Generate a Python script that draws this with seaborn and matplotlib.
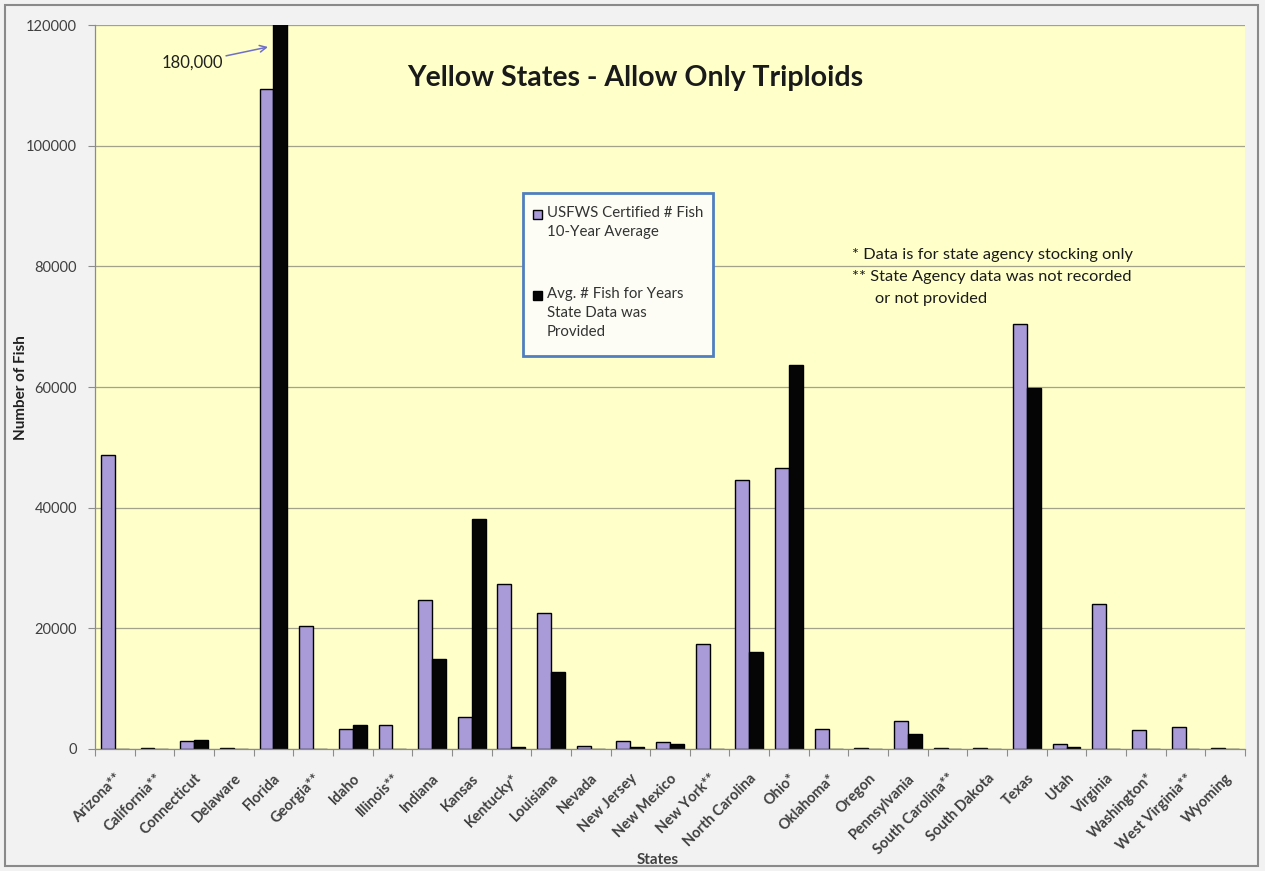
import numpy as np
import pandas as pd
import matplotlib
matplotlib.use("Agg")
import matplotlib.pyplot as plt
import seaborn as sns
from matplotlib.patches import Rectangle

# ---------------- data ----------------
states = ["Arizona**", "California**", "Connecticut", "Delaware", "Florida",
          "Georgia**", "Idaho", "Illinois**", "Indiana", "Kansas", "Kentucky*",
          "Louisiana", "Nevada", "New Jersey", "New Mexico", "New York**",
          "North Carolina", "Ohio*", "Oklahoma*", "Oregon", "Pennsylvania",
          "South Carolina**", "South Dakota", "Texas", "Utah", "Virginia",
          "Washington*", "West Virginia**", "Wyoming"]
usfws_avg = [48800, 150, 1250, 150, 109400,
             20400, 3300, 4000, 24700, 5300, 27300,
             22600, 550, 1270, 1170, 17400,
             44600, 46500, 3300, 120, 4700,
             120, 120, 70500, 830, 24000,
             3100, 3700, 120]
state_avg = [0, 60, 1500, 40, 180000,
             0, 4000, 0, 15000, 38100, 300,
             12700, 0, 400, 830, 0,
             16000, 63700, 0, 40, 2500,
             40, 40, 59800, 270, 0,
             0, 0, 40]
series_names = ["USFWS Certified # Fish 10-Year Average",
                "Avg. # Fish for Years State Data was Provided"]
yticks = [0, 20000, 40000, 60000, 80000, 100000, 120000]

purple = "#a99bd8"
black = "#050505"

sns.set_theme(style="white")
plt.rcParams['font.family'] = ['Lato', 'DejaVu Sans']

n = len(states)
df = pd.DataFrame({
    "State": states * 2,
    "Series": [series_names[0]] * n + [series_names[1]] * n,
    "Fish": usfws_avg + state_avg,
})

W, H = 1265, 871
fig = plt.figure(figsize=(W / 100, H / 100), dpi=100, facecolor="#f2f2f2")
ax = fig.add_axes([95 / W, 1 - 749 / H, 1150 / W, 724 / H])
ax.set_facecolor("#ffffc9")

sns.barplot(data=df, x="State", y="Fish", hue="Series", hue_order=series_names,
            palette=[purple, black], width=0.7, edgecolor="black", linewidth=1,
            saturation=1, errorbar=None, legend=False, ax=ax)

ax.set_ylim(0, 120000)
ax.set_xlim(-0.5, n - 0.5)
ax.set_yticks(yticks)
ax.set_yticklabels([str(v) for v in yticks], fontsize=10.5, color="#404040")
ax.yaxis.grid(True, color="#a3a38a", lw=0.9)
ax.set_axisbelow(True)

ax.set_xticks(range(n))
ax.set_xticklabels(states, rotation=45, ha="right", rotation_mode="anchor",
                   fontsize=10.5, fontweight="bold", color="#404040")
ax.set_xticks(np.arange(-0.5, n, 1), minor=True)
ax.tick_params(axis="x", which="major", length=0, pad=16)
ax.tick_params(axis="x", which="minor", length=5, color="#8c8c8c", width=0.8,
               direction="out", bottom=True)
ax.tick_params(axis="y", length=5, color="#8c8c8c", width=0.8, direction="out",
               left=True, pad=8)
ax.set_xlabel("")
ax.set_ylabel("")
for s in ["top", "right"]:
    ax.spines[s].set_visible(False)
for s in ["left", "bottom"]:
    ax.spines[s].set_color("#8c8c8c")
    ax.spines[s].set_linewidth(0.9)


def fx(px):
    return px / W


def fy(py):
    return 1 - py / H


# title
fig.text(fx(635), fy(78), "Yellow States - Allow Only Triploids", ha="center",
         va="center", fontsize=20.5, fontweight="bold", color="#1a1a1a")

# axis labels
fig.text(fx(21), fy(388), "Number of Fish", rotation=90, ha="center",
         va="center", fontsize=11, fontweight="bold", color="#202020")
fig.text(fx(658), fy(860), "States", ha="center", va="center", fontsize=11,
         fontweight="bold", color="#404040")

# 180,000 annotation
ax.annotate("180,000", xy=(fx(268), fy(47)), xycoords="figure fraction",
            xytext=(fx(192), fy(63)), textcoords="figure fraction",
            ha="center", va="center", fontsize=12, color="#202020",
            arrowprops=dict(arrowstyle="->", color="#6f6fc8", lw=1.1,
                            shrinkA=36, shrinkB=0))

# legend box (drawn like the spreadsheet legend)
fig.patches.append(Rectangle((fx(523), fy(356)), (713 - 523) / W, (356 - 193) / H,
                             transform=fig.transFigure, facecolor="#fdfdf6",
                             edgecolor="#4f7fc0", lw=2, zorder=5))
fig.patches.append(Rectangle((fx(533), fy(219)), 9 / W, 9 / H,
                             transform=fig.transFigure, facecolor=purple,
                             edgecolor="black", lw=1, zorder=6))
fig.patches.append(Rectangle((fx(533), fy(300)), 9 / W, 9 / H,
                             transform=fig.transFigure, facecolor=black,
                             edgecolor="black", lw=1, zorder=6))
fig.text(fx(547), fy(206), "USFWS Certified # Fish\n10-Year Average", ha="left",
         va="top", fontsize=10.8, color="#333333", linespacing=1.45, zorder=7)
fig.text(fx(547), fy(287), "Avg. # Fish for Years\nState Data was\nProvided",
         ha="left", va="top", fontsize=10.8, color="#333333", linespacing=1.45,
         zorder=7)

# notes
fig.text(fx(852), fy(255), "* Data is for state agency stocking only", ha="left",
         va="center", fontsize=11.8, color="#1a1a1a")
fig.text(fx(852), fy(277), "** State Agency data was not recorded", ha="left",
         va="center", fontsize=11.8, color="#1a1a1a")
fig.text(fx(875), fy(299), "or not provided", ha="left", va="center",
         fontsize=11.8, color="#1a1a1a")

# outer frame
fig.patches.append(Rectangle((fx(5), fy(866)), 1253 / W, 861 / H,
                             transform=fig.transFigure, fill=False,
                             edgecolor="#8a8a8a", lw=1.5))

fig.savefig("out.png", dpi=100, facecolor=fig.get_facecolor())
